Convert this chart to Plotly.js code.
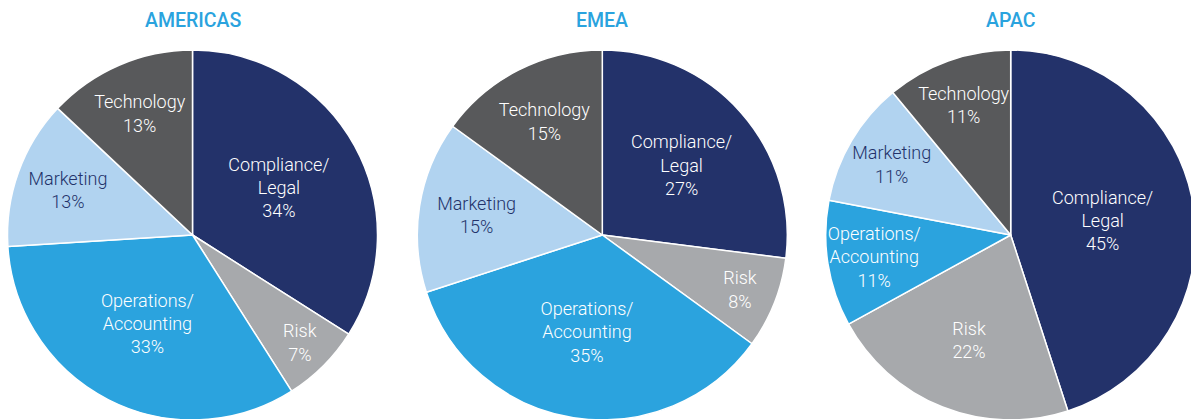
<!DOCTYPE html>
<html>
<head>
<meta charset="utf-8">
<script src="https://cdn.plot.ly/plotly-3.0.1.min.js"></script>
<style>
html,body{margin:0;padding:0;overflow:hidden;background:#fff;}
#chart{width:1200px;height:425px;}
</style>
</head>
<body>
<div id="chart"></div>
<script>
const categories = ["Compliance/<br>Legal", "Risk", "Operations/<br>Accounting", "Marketing", "Technology"];
const regions = ["AMERICAS", "EMEA", "APAC"];
const americasValues = [34, 7, 33, 13, 13];
const emeaValues = [27, 8, 35, 15, 15];
const apacValues = [45, 22, 11, 11, 11];

const sliceColors = ["#23326a", "#a7a9ac", "#2ba3de", "#b1d3f0", "#58595b"];
const textColors = ["#ffffff", "#ffffff", "#ffffff", "#23326a", "#ffffff"];

const W = 1200, H = 425;
const R = 185, CY = 235;
const centersX = [192.5, 602.3, 1010.7];
const allValues = [americasValues, emeaValues, apacValues];

const traces = [];
const annotations = [];
allValues.forEach((vals, i) => {
  const cx = centersX[i];
  traces.push({
    type: "pie",
    labels: categories,
    values: vals,
    sort: false,
    direction: "clockwise",
    rotation: 0,
    marker: {colors: sliceColors, line: {color: "#ffffff", width: 1.5}},
    texttemplate: "%{label}<br>%{value}%",
    textposition: "inside",
    insidetextorientation: "horizontal",
    insidetextfont: {family: "Roboto, sans-serif", size: 18, color: textColors, weight: 300},
    hoverinfo: "label+value",
    showlegend: false,
    domain: {x: [(cx - R) / W, (cx + R) / W], y: [(H - CY - R) / H, (H - CY + R) / H]}
  });
  annotations.push({
    text: regions[i],
    xref: "paper", yref: "paper",
    x: cx / W, y: (H - 20) / H,
    xanchor: "center", yanchor: "middle",
    showarrow: false,
    font: {family: "Roboto, sans-serif", size: 19.5, color: "#2aa3de", weight: 500}
  });
});

Plotly.newPlot("chart", traces, {
  width: W, height: H,
  margin: {l: 0, r: 0, t: 0, b: 0},
  paper_bgcolor: "#ffffff",
  uniformtext: {mode: "show", minsize: 18},
  annotations: annotations
}, {displayModeBar: false, staticPlot: true});
</script>
</body>
</html>
